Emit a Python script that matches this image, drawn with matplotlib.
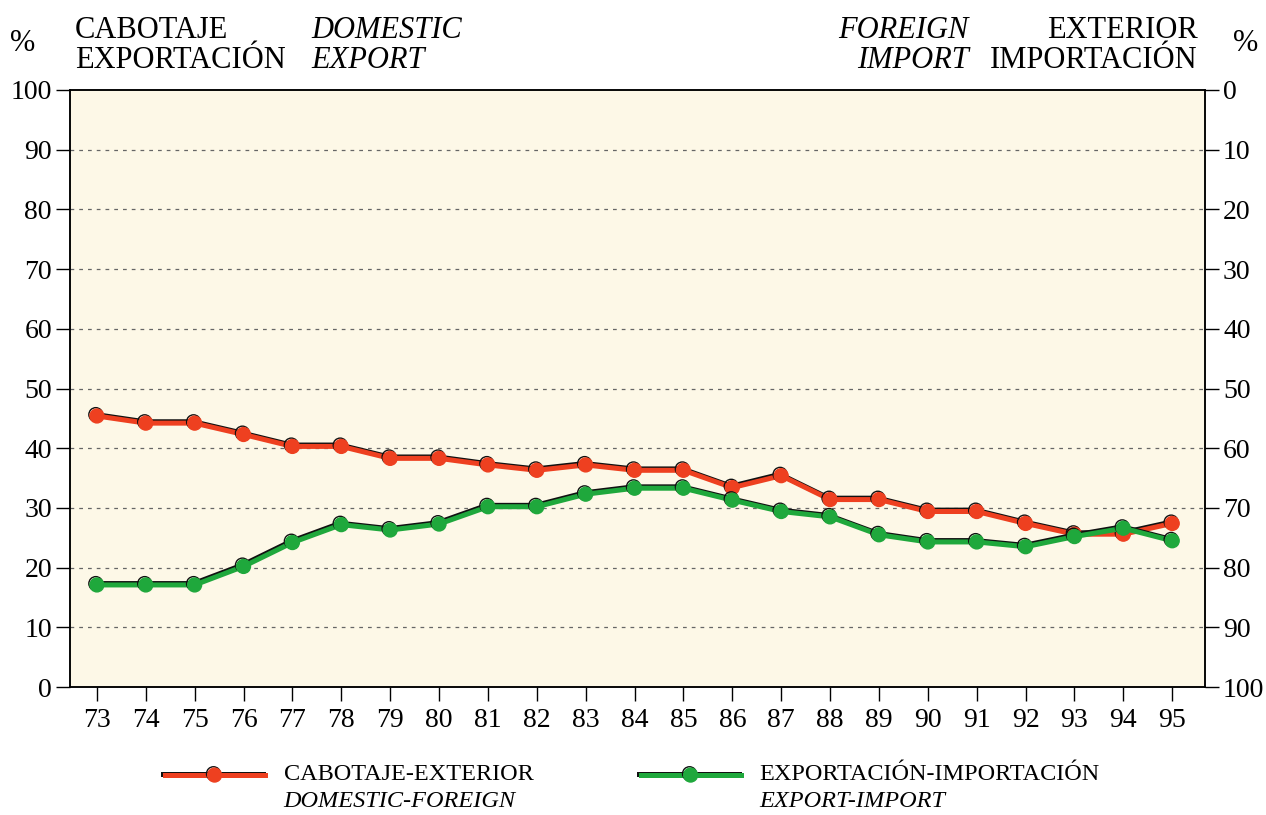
import matplotlib.pyplot as plt
import matplotlib.patheffects as pe
from matplotlib.lines import Line2D

years = list(range(73, 96))
year_labels = [str(y) for y in years]
cabotaje = [45.4, 44.2, 44.2, 42.3, 40.3, 40.3, 38.3, 38.3, 37.2, 36.3, 37.2, 36.3,
            36.3, 33.4, 35.4, 31.4, 31.4, 29.4, 29.4, 27.4, 25.6, 25.6, 27.4]
exportacion = [17.1, 17.1, 17.1, 20.2, 24.2, 27.2, 26.3, 27.3, 30.2, 30.2, 32.3, 33.3,
               33.3, 31.3, 29.4, 28.5, 25.5, 24.3, 24.3, 23.5, 25.2, 26.6, 24.5]
left_ticks = list(range(0, 101, 10))

RED = "#EE4020"
GREEN = "#1FA83C"
BG = "#FDF8E7"

plt.rcParams["font.family"] = ["Liberation Serif", "DejaVu Serif"]

fig = plt.figure(figsize=(12.66, 8.15), dpi=100)
ax = fig.add_axes([0.0553, 0.157, 0.8965, 0.7326])
ax.set_facecolor(BG)

shadow = [pe.SimpleLineShadow(offset=(-0.8, 1.0), shadow_color="#111111", alpha=1), pe.Normal()]
ax.plot(years, cabotaje, color=RED, lw=3.6, marker="o", ms=10, mec=RED, zorder=3,
        path_effects=shadow)
ax.plot(years, exportacion, color=GREEN, lw=3.6, marker="o", ms=10, mec=GREEN, zorder=4,
        path_effects=shadow)

ax.set_xlim(72.45, 95.67)
ax.set_ylim(0, 100)
ax.set_xticks(years)
ax.set_xticklabels(year_labels)
ax.set_yticks(left_ticks)
for t in left_ticks[1:-1]:
    ax.axhline(t, color="#666666", lw=0.9, ls=(0, (3, 4)), zorder=1)

ax.tick_params(axis="both", direction="out", length=10, width=1, labelsize=20,
               colors="black", pad=3)
ax.tick_params(axis="x", pad=5)

ax2 = ax.twinx()
ax2.set_ylim(100, 0)
ax2.set_yticks(left_ticks)
ax2.tick_params(axis="y", direction="out", length=10, width=1, labelsize=20, pad=3)

for a in (ax, ax2):
    for s in a.spines.values():
        s.set_linewidth(1.1)

# headers
fs = 22
fig.text(0.008, 0.947, "%", fontsize=fs, va="center")
fig.text(0.059, 0.963, "CABOTAJE", fontsize=fs, va="center")
fig.text(0.059, 0.926, "EXPORTACIÓN", fontsize=fs, va="center")
fig.text(0.246, 0.963, "DOMESTIC", fontsize=fs, va="center", style="italic")
fig.text(0.246, 0.926, "EXPORT", fontsize=fs, va="center", style="italic")
fig.text(0.765, 0.963, "FOREIGN", fontsize=fs, va="center", ha="right", style="italic")
fig.text(0.765, 0.926, "IMPORT", fontsize=fs, va="center", ha="right", style="italic")
fig.text(0.946, 0.963, "EXTERIOR", fontsize=fs, va="center", ha="right")
fig.text(0.946, 0.926, "IMPORTACIÓN", fontsize=fs, va="center", ha="right")
fig.text(0.994, 0.947, "%", fontsize=fs, va="center", ha="right")

# legend
for x0, color, l1, l2 in [(0.130, RED, "CABOTAJE-EXTERIOR", "DOMESTIC-FOREIGN"),
                          (0.506, GREEN, "EXPORTACIÓN-IMPORTACIÓN", "EXPORT-IMPORT")]:
    ly = 0.049
    fig.add_artist(Line2D([x0, x0 + 0.079], [ly, ly], color=color, lw=3.6,
                          path_effects=shadow, transform=fig.transFigure))
    fig.add_artist(Line2D([x0 + 0.0395], [ly], color=color, marker="o", ms=10, mec=color,
                          path_effects=shadow, transform=fig.transFigure))
    fig.text(x0 + 0.094, 0.050, l1, fontsize=17.5, va="center")
    fig.text(x0 + 0.094, 0.016, l2, fontsize=17.5, va="center", style="italic")

fig.savefig("out.png", dpi=100, facecolor="white")
